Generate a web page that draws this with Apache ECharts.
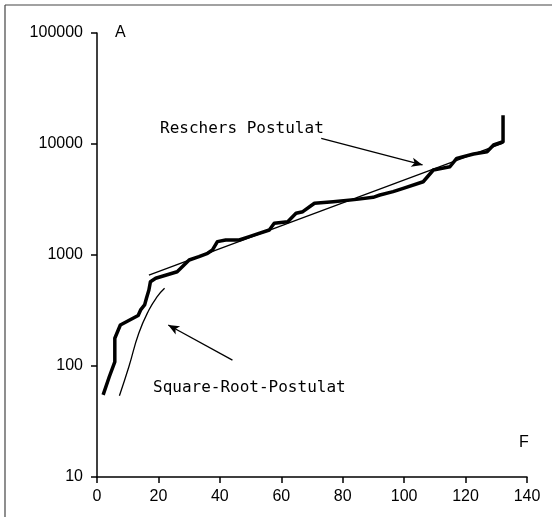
<!DOCTYPE html>
<html>
<head>
<meta charset="utf-8">
<script src="https://cdn.jsdelivr.net/npm/echarts@6/dist/echarts.min.js"></script>
<style>html,body{margin:0;padding:0;background:#fff}#c{width:552px;height:517px}</style>
</head>
<body>
<div id="c"></div>
<script>
// x tick values and y tick values
const xTicks = [0, 20, 40, 60, 80, 100, 120, 140];
const yTicks = [10, 100, 1000, 10000, 100000];

// Observed (thick) curve
const observedX = [2, 4, 5.8, 5.8, 7.6, 13.4, 14.2, 15.5, 16.1, 16.9, 17.4, 19.1, 26.1, 30, 33.2, 36, 37.6, 39.2, 41.9, 46.3, 49.6, 56.1, 57.7, 62.1, 64.8, 67, 70.8, 76.9, 84.5, 89.9, 92.1, 96.4, 99.7, 106.2, 109.5, 114.9, 117.1, 122.6, 127, 129.1, 132.2, 132.2];
const observedY = [55, 80, 109, 178, 234, 285, 320, 355, 407, 484, 575, 617, 707, 902, 966, 1036, 1110, 1319, 1365, 1365, 1462, 1680, 1930, 1995, 2377, 2455, 2925, 3020, 3170, 3310, 3470, 3720, 3990, 4570, 5830, 6240, 7420, 8130, 8520, 9790, 10480, 18200];

// Rescher's postulate (straight line in log scale)
const rescherX = [16.9, 132.2];
const rescherY = [660, 10200];

// Square-root postulate curve
const sqrtX = [7.3, 10.4, 13.6, 16.9, 19.6, 22.0];
const sqrtY = [54, 99, 197, 319, 421, 501];

// Annotation arrows (data coordinates): [tailX, tailY, headX, headY]
const rescherArrow = [73, 11250, 106, 6470];
const sqrtArrow = [44.1, 113, 23.2, 234];

const zip = (a, b) => a.map((v, i) => [v, b[i]]);

const chart = echarts.init(document.getElementById('c'), null, {renderer: 'canvas'});
const axisFont = {fontFamily: 'Liberation Sans, Arial, sans-serif', fontSize: 16, color: '#000'};
const monoFont = 'DejaVu Sans Mono, Liberation Mono, monospace';

chart.setOption({
  animation: false,
  backgroundColor: '#fff',
  grid: {left: 97, right: 25, top: 33, bottom: 40},
  xAxis: {
    type: 'value', min: 0, max: 140, interval: 20,
    axisLine: {show: true, onZero: false, lineStyle: {color: '#000', width: 1.5}},
    axisTick: {show: true, inside: false, length: 6, lineStyle: {color: '#000', width: 1.5}},
    axisLabel: Object.assign({margin: 12, formatter: v => xTicks.includes(v) ? String(v) : ''}, axisFont),
    splitLine: {show: false}
  },
  yAxis: {
    type: 'log', logBase: 10, min: 10, max: 100000,
    axisLine: {show: true, onZero: false, lineStyle: {color: '#000', width: 1.5}},
    axisTick: {show: true, inside: false, length: 6, lineStyle: {color: '#000', width: 1.5}},
    minorTick: {show: false},
    axisLabel: Object.assign({margin: 14, formatter: v => yTicks.includes(Math.round(v)) ? String(Math.round(v)) : ''}, axisFont),
    splitLine: {show: false}
  },
  series: [
    {
      name: 'observed', type: 'line', data: zip(observedX, observedY),
      symbol: 'none', lineStyle: {color: '#000', width: 3.5, join: 'round'}, z: 3
    },
    {
      name: 'Rescher', type: 'line', data: zip(rescherX, rescherY),
      symbol: 'none', lineStyle: {color: '#000', width: 1.3}, z: 4,
      markLine: {
        silent: true, symbol: ['none', 'arrow'], symbolSize: [7, 11],
        label: {show: false},
        lineStyle: {color: '#000', width: 1.3, type: 'solid'},
        data: [
          [{coord: [rescherArrow[0], rescherArrow[1]]}, {coord: [rescherArrow[2], rescherArrow[3]]}],
          [{coord: [sqrtArrow[0], sqrtArrow[1]]}, {coord: [sqrtArrow[2], sqrtArrow[3]]}]
        ]
      }
    },
    {
      name: 'Square-Root', type: 'line', data: zip(sqrtX, sqrtY), smooth: true,
      symbol: 'none', lineStyle: {color: '#000', width: 1.3}, z: 4
    }
  ],
  graphic: [
    {type: 'line', shape: {x1: 5, y1: 5, x2: 552, y2: 5}, style: {stroke: '#444', lineWidth: 1.2}},
    {type: 'line', shape: {x1: 5, y1: 5, x2: 5, y2: 517}, style: {stroke: '#444', lineWidth: 1.2}},
    {type: 'text', left: 115, top: 25, style: {text: 'A', font: '16px Liberation Sans, Arial, sans-serif', fill: '#000'}},
    {type: 'text', left: 519, top: 435, style: {text: 'F', font: '16px Liberation Sans, Arial, sans-serif', fill: '#000'}},
    {type: 'text', left: 160, top: 121, style: {text: 'Reschers Postulat', font: '16px ' + monoFont, fill: '#000'}},
    {type: 'text', left: 153, top: 380, style: {text: 'Square-Root-Postulat', font: '16px ' + monoFont, fill: '#000'}}
  ]
});
</script>
</body>
</html>
